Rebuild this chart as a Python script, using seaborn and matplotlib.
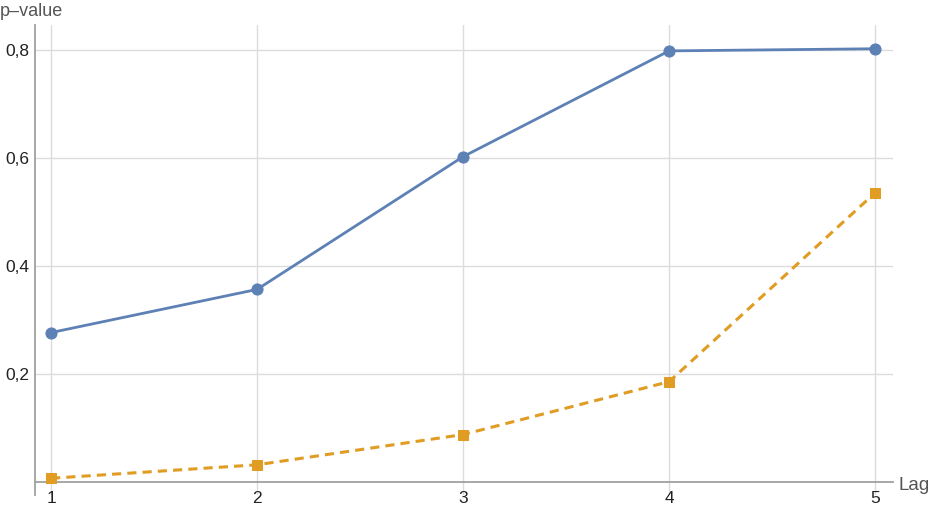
import pandas as pd
import matplotlib.pyplot as plt
import seaborn as sns
from matplotlib.ticker import MultipleLocator, FuncFormatter

# data
lags = [1, 2, 3, 4, 5]
pvalue_a = [0.276, 0.356, 0.602, 0.798, 0.802]
pvalue_b = [0.006, 0.031, 0.087, 0.185, 0.535]

blue = '#5E81B5'
orange = '#E19C24'

sns.set_style('white')
plt.rcParams['font.family'] = ['Liberation Sans', 'DejaVu Sans']

df = pd.DataFrame({'lag': lags, 'a': pvalue_a, 'b': pvalue_b})

fig = plt.figure(figsize=(9.36, 5.07), dpi=100)
ax = fig.add_axes([35 / 936, 12 / 507, (893 - 35) / 936, (495 - 25) / 507])

sns.lineplot(x='lag', y='a', data=df, ax=ax, color=blue, linewidth=2,
             marker='o', markersize=8, markeredgecolor=blue, zorder=3)
sns.lineplot(x='lag', y='b', data=df, ax=ax, color=orange, linewidth=2.2,
             linestyle=(0, (3, 2)), marker='s', markersize=7.5,
             markeredgecolor=orange, zorder=3)

ax.set_xlim(0.922, 5.087)
ax.set_ylim(-0.025, 0.846)

# Mathematica-like axes
ax.spines['top'].set_visible(False)
ax.spines['right'].set_visible(False)
ax.spines['bottom'].set_position(('data', 0))
for s in ['left', 'bottom']:
    ax.spines[s].set_color('#a0a0a0')
    ax.spines[s].set_linewidth(1.3)

ax.xaxis.set_major_locator(MultipleLocator(1))
ax.xaxis.set_minor_locator(MultipleLocator(0.2))
ax.yaxis.set_major_locator(MultipleLocator(0.2))
ax.yaxis.set_minor_locator(MultipleLocator(0.05))
ax.set_yticks([0.2, 0.4, 0.6, 0.8])
ax.yaxis.set_major_formatter(FuncFormatter(lambda v, p: f'{v:.1f}'.replace('.', ',')))

ax.tick_params(axis='both', which='major', direction='in', length=5, width=1,
               color='#a0a0a0', labelsize=12.5, labelcolor='#222222')
ax.tick_params(axis='both', which='minor', direction='in', length=3, width=0.8,
               color='#b0b0b0')
ax.tick_params(axis='x', pad=7)
ax.tick_params(axis='y', pad=4)

ax.grid(True, which='major', color='#dcdcdc', linewidth=1)
ax.set_axisbelow(True)

ax.set_xlabel('')
ax.set_ylabel('')
fig.text(0 / 936, 1 - 11 / 507, 'p\u2013value', fontsize=13, color='#555555',
         ha='left', va='center')
fig.text(899 / 936, 1 - 485 / 507, 'Lag', fontsize=13.5, color='#555555',
         ha='left', va='center')

fig.savefig('out.png', dpi=100)
